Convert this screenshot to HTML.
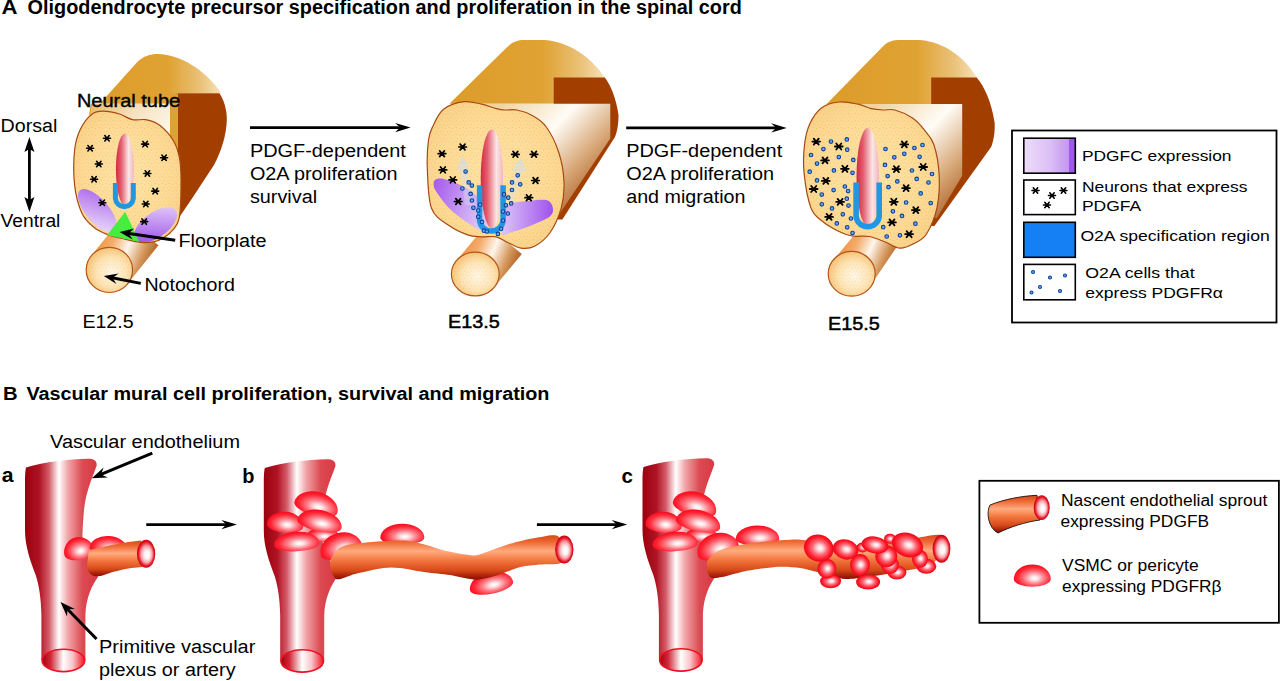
<!DOCTYPE html>
<html><head><meta charset="utf-8"><style>
html,body{margin:0;padding:0;background:#fff;width:1280px;height:681px;overflow:hidden}
svg{display:block}
text{font-family:"Liberation Sans",sans-serif;fill:#000}
</style></head><body>
<svg width="1280" height="681" viewBox="0 0 1280 681">
<defs>
<linearGradient id="gold" x1="0" y1="0" x2="1" y2="0">
 <stop offset="0" stop-color="#dc9c2a"/><stop offset="0.6" stop-color="#e0a232"/><stop offset="0.85" stop-color="#eac27a"/><stop offset="1" stop-color="#f6e2b8"/>
</linearGradient>
<linearGradient id="inner1" x1="0" y1="0" x2="1" y2="0.5">
 <stop offset="0" stop-color="#e6b45c"/><stop offset="0.55" stop-color="#f6e2c0"/><stop offset="1" stop-color="#fdf6ea"/>
</linearGradient>
<linearGradient id="inner2" gradientUnits="userSpaceOnUse" x1="500" y1="104" x2="600" y2="200">
 <stop offset="0" stop-color="#f0d4a0"/><stop offset="0.4" stop-color="#fffcf6"/><stop offset="0.7" stop-color="#d8a878"/><stop offset="1" stop-color="#a05014"/>
</linearGradient>
<linearGradient id="inner3" gradientUnits="userSpaceOnUse" x1="877" y1="104" x2="977" y2="200">
 <stop offset="0" stop-color="#f0d4a0"/><stop offset="0.4" stop-color="#fffcf6"/><stop offset="0.7" stop-color="#d8a878"/><stop offset="1" stop-color="#a05014"/>
</linearGradient>
<radialGradient id="xsec" cx="0.5" cy="0.5" r="0.6">
 <stop offset="0" stop-color="#fde4a6"/><stop offset="0.7" stop-color="#fcda94"/><stop offset="1" stop-color="#f9d088"/>
</radialGradient>
<pattern id="speck" width="7" height="7" patternUnits="userSpaceOnUse">
 <circle cx="1.2" cy="1.3" r="0.6" fill="#ec9a40" opacity="0.45"/><circle cx="4.7" cy="2.6" r="0.55" fill="#ec9a40" opacity="0.4"/><circle cx="2.7" cy="5.2" r="0.55" fill="#ec9a40" opacity="0.4"/><circle cx="6.1" cy="6.0" r="0.5" fill="#ec9a40" opacity="0.35"/>
</pattern>
<radialGradient id="noto" cx="0.55" cy="0.55" r="0.6">
 <stop offset="0" stop-color="#fff6e6"/><stop offset="0.55" stop-color="#fde4b4"/><stop offset="1" stop-color="#f4bc6c"/>
</radialGradient>
<linearGradient id="notobody" x1="0" y1="0.3" x2="1" y2="0.7">
 <stop offset="0" stop-color="#ec8a34"/><stop offset="0.3" stop-color="#f4ac6c"/><stop offset="0.52" stop-color="#fff6ec"/><stop offset="0.75" stop-color="#d4965a"/><stop offset="1" stop-color="#a04808"/>
</linearGradient>
<linearGradient id="purpleL2" x1="0" y1="0" x2="1" y2="0.3">
 <stop offset="0" stop-color="#a458ec"/><stop offset="1" stop-color="#dcc4f6"/>
</linearGradient>
<linearGradient id="purpleL" x1="0" y1="0" x2="1" y2="0.6">
 <stop offset="0" stop-color="#a860ec"/><stop offset="1" stop-color="#e6d2f8"/>
</linearGradient>
<linearGradient id="purpleR" x1="0" y1="0.6" x2="1" y2="0">
 <stop offset="0" stop-color="#a058ea"/><stop offset="1" stop-color="#ead8fa"/>
</linearGradient>
<linearGradient id="purpleR2" x1="0" y1="0" x2="1" y2="0">
 <stop offset="0" stop-color="#dcc6f8"/><stop offset="1" stop-color="#a052ec"/>
</linearGradient>
<linearGradient id="legpurple" x1="0" y1="0" x2="1" y2="0">
 <stop offset="0" stop-color="#ecdcf8"/><stop offset="0.5" stop-color="#dcc0f6"/><stop offset="0.87" stop-color="#c496f2"/><stop offset="0.88" stop-color="#9e58ea"/><stop offset="1" stop-color="#9e58ea"/>
</linearGradient>
<linearGradient id="canal" x1="0" y1="0" x2="1" y2="0">
 <stop offset="0" stop-color="#d42840"/><stop offset="0.3" stop-color="#e26070"/><stop offset="0.7" stop-color="#fbe6e6"/><stop offset="1" stop-color="#f4b4bc"/>
</linearGradient>
<linearGradient id="vesA" gradientUnits="userSpaceOnUse" x1="25" y1="0" x2="97" y2="0">
 <stop offset="0" stop-color="#9a000e"/><stop offset="0.2" stop-color="#b01424"/><stop offset="0.33" stop-color="#d45a68"/><stop offset="0.47" stop-color="#ffffff"/><stop offset="0.6" stop-color="#f0a4a8"/><stop offset="0.8" stop-color="#dc4a52"/><stop offset="1" stop-color="#d83a44"/>
</linearGradient>
<linearGradient id="vesB" gradientUnits="userSpaceOnUse" x1="263" y1="0" x2="335" y2="0">
 <stop offset="0" stop-color="#9a000e"/><stop offset="0.2" stop-color="#b01424"/><stop offset="0.33" stop-color="#d45a68"/><stop offset="0.47" stop-color="#ffffff"/><stop offset="0.6" stop-color="#f0a4a8"/><stop offset="0.8" stop-color="#dc4a52"/><stop offset="1" stop-color="#d83a44"/>
</linearGradient>
<linearGradient id="vesC" gradientUnits="userSpaceOnUse" x1="642" y1="0" x2="714" y2="0">
 <stop offset="0" stop-color="#9a000e"/><stop offset="0.2" stop-color="#b01424"/><stop offset="0.33" stop-color="#d45a68"/><stop offset="0.47" stop-color="#ffffff"/><stop offset="0.6" stop-color="#f0a4a8"/><stop offset="0.8" stop-color="#dc4a52"/><stop offset="1" stop-color="#d83a44"/>
</linearGradient>
<linearGradient id="open" x1="0" y1="0" x2="1" y2="0">
 <stop offset="0" stop-color="#a8000e"/><stop offset="0.2" stop-color="#d02838"/><stop offset="0.5" stop-color="#ffffff"/><stop offset="0.72" stop-color="#f8c4c8"/><stop offset="1" stop-color="#f01424"/>
</linearGradient>
<radialGradient id="open2" cx="0.5" cy="0.5" r="0.5" fx="0.58" fy="0.55">
 <stop offset="0" stop-color="#ffffff"/><stop offset="0.3" stop-color="#fff0f0"/><stop offset="0.6" stop-color="#f8a0a8"/><stop offset="0.85" stop-color="#e81828"/><stop offset="1" stop-color="#c00010"/>
</radialGradient>
<linearGradient id="sprout" x1="0" y1="0" x2="0" y2="1">
 <stop offset="0" stop-color="#d04a18"/><stop offset="0.15" stop-color="#ee6630"/><stop offset="0.36" stop-color="#ffac80"/><stop offset="0.56" stop-color="#f47840"/><stop offset="0.8" stop-color="#d64818"/><stop offset="1" stop-color="#8a0a00"/>
</linearGradient>
<radialGradient id="cell" cx="0.55" cy="0.58" r="0.6" fx="0.56" fy="0.62">
 <stop offset="0" stop-color="#ffffff"/><stop offset="0.15" stop-color="#ffe6e8"/><stop offset="0.45" stop-color="#ff7c86"/><stop offset="0.75" stop-color="#ff2636"/><stop offset="1" stop-color="#f40616"/>
</radialGradient>
<radialGradient id="cellE" cx="0.5" cy="0.5" r="0.5" fx="0.55" fy="0.48">
 <stop offset="0" stop-color="#ffffff"/><stop offset="0.18" stop-color="#ffe0e4"/><stop offset="0.5" stop-color="#ff6a76"/><stop offset="0.8" stop-color="#ff1c2c"/><stop offset="1" stop-color="#e80818"/>
</radialGradient>
<linearGradient id="arrowg" x1="0" y1="1" x2="0" y2="0">
 <stop offset="0" stop-color="#dce4ea" stop-opacity="0.3"/><stop offset="1" stop-color="#cfdbe6" stop-opacity="0.75"/>
</linearGradient>
</defs>

<path d="M88.7,116 L136.4,63 C143,56 150,54 158,54 C182,55 204,70 219,90 L221,93.2 L178,93.2 L178,103.7 L91,103.7 Z" fill="url(#gold)"/>
<path d="M177.5,93.2 L219.5,93.2 C224,100 227,110 226.8,120 C226.5,135 221,152 214,165 L191,200 L176,222 L176,93.2 Z" fill="#a23f00"/>
<rect x="170" y="93.2" width="8" height="70" fill="#dfa03a"/>
<path d="M92,103.7 L170,103.7 L170,150 L84,150 Z" fill="url(#inner1)"/>
<path d="M91.5,255.5L122.8,216.5L158.5,245.3L127.3,284.3Z" fill="url(#notobody)"/>
<ellipse cx="109.4" cy="269.9" rx="23.2" ry="22.6" fill="url(#noto)" stroke="#b45414" stroke-width="1.2"/>
<ellipse cx="109.4" cy="269.9" rx="23.2" ry="22.6" fill="url(#speck)" opacity="0.6"/>
<path d="M80.5,129.0C83.4,123.0 88.4,117.0 92.2,114.0C96.0,111.0 98.9,111.2 103.4,111.2C107.9,111.2 114.6,112.6 119.4,114.0C124.2,115.4 128.1,118.8 132.5,119.7C136.9,120.7 141.1,118.8 145.6,119.7C150.1,120.6 155.0,121.7 159.7,125.3C164.4,128.9 170.3,135.3 173.7,141.2C177.1,147.1 178.7,152.7 179.9,160.5C181.1,168.3 181.1,178.5 181.0,188.0C180.9,197.5 180.6,210.7 179.3,217.6C178.0,224.5 176.0,226.1 173.4,229.4C170.8,232.7 167.1,235.6 164.0,237.6C160.9,239.6 158.5,240.9 154.6,241.7C150.7,242.5 145.9,242.8 140.5,242.3C135.1,241.8 127.5,239.8 122.0,238.5C116.5,237.2 112.3,236.5 107.6,234.6C102.8,232.7 97.8,230.6 93.5,227.0C89.2,223.4 84.9,219.8 81.8,212.9C78.7,206.1 75.9,196.4 74.7,185.9C73.5,175.4 73.6,159.5 74.6,150.0C75.6,140.5 77.6,135.0 80.5,129.0Z" fill="url(#xsec)"/>
<path d="M80.5,129.0C83.4,123.0 88.4,117.0 92.2,114.0C96.0,111.0 98.9,111.2 103.4,111.2C107.9,111.2 114.6,112.6 119.4,114.0C124.2,115.4 128.1,118.8 132.5,119.7C136.9,120.7 141.1,118.8 145.6,119.7C150.1,120.6 155.0,121.7 159.7,125.3C164.4,128.9 170.3,135.3 173.7,141.2C177.1,147.1 178.7,152.7 179.9,160.5C181.1,168.3 181.1,178.5 181.0,188.0C180.9,197.5 180.6,210.7 179.3,217.6C178.0,224.5 176.0,226.1 173.4,229.4C170.8,232.7 167.1,235.6 164.0,237.6C160.9,239.6 158.5,240.9 154.6,241.7C150.7,242.5 145.9,242.8 140.5,242.3C135.1,241.8 127.5,239.8 122.0,238.5C116.5,237.2 112.3,236.5 107.6,234.6C102.8,232.7 97.8,230.6 93.5,227.0C89.2,223.4 84.9,219.8 81.8,212.9C78.7,206.1 75.9,196.4 74.7,185.9C73.5,175.4 73.6,159.5 74.6,150.0C75.6,140.5 77.6,135.0 80.5,129.0Z" fill="url(#speck)"/>
<clipPath id="c1"><path d="M80.5,129.0C83.4,123.0 88.4,117.0 92.2,114.0C96.0,111.0 98.9,111.2 103.4,111.2C107.9,111.2 114.6,112.6 119.4,114.0C124.2,115.4 128.1,118.8 132.5,119.7C136.9,120.7 141.1,118.8 145.6,119.7C150.1,120.6 155.0,121.7 159.7,125.3C164.4,128.9 170.3,135.3 173.7,141.2C177.1,147.1 178.7,152.7 179.9,160.5C181.1,168.3 181.1,178.5 181.0,188.0C180.9,197.5 180.6,210.7 179.3,217.6C178.0,224.5 176.0,226.1 173.4,229.4C170.8,232.7 167.1,235.6 164.0,237.6C160.9,239.6 158.5,240.9 154.6,241.7C150.7,242.5 145.9,242.8 140.5,242.3C135.1,241.8 127.5,239.8 122.0,238.5C116.5,237.2 112.3,236.5 107.6,234.6C102.8,232.7 97.8,230.6 93.5,227.0C89.2,223.4 84.9,219.8 81.8,212.9C78.7,206.1 75.9,196.4 74.7,185.9C73.5,175.4 73.6,159.5 74.6,150.0C75.6,140.5 77.6,135.0 80.5,129.0Z"/></clipPath>
<g clip-path="url(#c1)">
<ellipse cx="97.5" cy="211" rx="27" ry="11.5" transform="rotate(50 97.5 211)" fill="url(#purpleL)"/>
<ellipse cx="155.5" cy="225" rx="25" ry="12.5" transform="rotate(-36 155.5 225)" fill="url(#purpleR)"/>
</g>
<path d="M80.5,129.0C83.4,123.0 88.4,117.0 92.2,114.0C96.0,111.0 98.9,111.2 103.4,111.2C107.9,111.2 114.6,112.6 119.4,114.0C124.2,115.4 128.1,118.8 132.5,119.7C136.9,120.7 141.1,118.8 145.6,119.7C150.1,120.6 155.0,121.7 159.7,125.3C164.4,128.9 170.3,135.3 173.7,141.2C177.1,147.1 178.7,152.7 179.9,160.5C181.1,168.3 181.1,178.5 181.0,188.0C180.9,197.5 180.6,210.7 179.3,217.6C178.0,224.5 176.0,226.1 173.4,229.4C170.8,232.7 167.1,235.6 164.0,237.6C160.9,239.6 158.5,240.9 154.6,241.7C150.7,242.5 145.9,242.8 140.5,242.3C135.1,241.8 127.5,239.8 122.0,238.5C116.5,237.2 112.3,236.5 107.6,234.6C102.8,232.7 97.8,230.6 93.5,227.0C89.2,223.4 84.9,219.8 81.8,212.9C78.7,206.1 75.9,196.4 74.7,185.9C73.5,175.4 73.6,159.5 74.6,150.0C75.6,140.5 77.6,135.0 80.5,129.0Z" fill="none" stroke="#a84a10" stroke-width="1.2"/>
<path d="M125.2,211.7 L107,235.2 L139.3,241.7 Z" fill="#46ec3e"/>
<ellipse cx="124.9" cy="169.4" rx="9" ry="36" fill="url(#canal)"/>
<path d="M115.4,182.9L115.4,198.6A9.0,9.0 0 0 0 133.3,198.6L133.3,182.9" fill="none" stroke="#2196e2" stroke-width="5"/>
<path d="M103.5,138.2L110.5,138.2M104.8,135.5L109.2,140.9M109.2,135.5L104.8,140.9" stroke="#000" stroke-width="1.6" stroke-linecap="round"/>
<path d="M86.6,148.3L93.6,148.3M87.9,145.6L92.3,151.0M92.3,145.6L87.9,151.0" stroke="#000" stroke-width="1.6" stroke-linecap="round"/>
<path d="M95.3,164.0L102.3,164.0M96.6,161.3L101.0,166.7M101.0,161.3L96.6,166.7" stroke="#000" stroke-width="1.6" stroke-linecap="round"/>
<path d="M90.6,179.3L97.6,179.3M91.9,176.6L96.3,182.0M96.3,176.6L91.9,182.0" stroke="#000" stroke-width="1.6" stroke-linecap="round"/>
<path d="M98.8,202.8L105.8,202.8M100.1,200.1L104.5,205.5M104.5,200.1L100.1,205.5" stroke="#000" stroke-width="1.6" stroke-linecap="round"/>
<path d="M141.6,144.1L148.6,144.1M142.9,141.4L147.3,146.8M147.3,141.4L142.9,146.8" stroke="#000" stroke-width="1.6" stroke-linecap="round"/>
<path d="M160.6,157.7L167.6,157.7M161.9,155.0L166.3,160.4M166.3,155.0L161.9,160.4" stroke="#000" stroke-width="1.6" stroke-linecap="round"/>
<path d="M143.9,173.5L150.9,173.5M145.2,170.8L149.6,176.2M149.6,170.8L145.2,176.2" stroke="#000" stroke-width="1.6" stroke-linecap="round"/>
<path d="M151.7,191.1L158.7,191.1M153.0,188.4L157.4,193.8M157.4,188.4L153.0,193.8" stroke="#000" stroke-width="1.6" stroke-linecap="round"/>
<path d="M142.3,204.0L149.3,204.0M143.6,201.3L148.0,206.7M148.0,201.3L143.6,206.7" stroke="#000" stroke-width="1.6" stroke-linecap="round"/>
<path d="M140.7,221.6L147.7,221.6M142.0,218.9L146.4,224.3M146.4,218.9L142.0,224.3" stroke="#000" stroke-width="1.6" stroke-linecap="round"/>
<path d="M449.4,103.7 L506.7,47.6 C512,42 518,40 524,40 L545,40 C570,42 592,58 604.8,77.5 L604.8,103.7 Z" fill="url(#gold)"/>
<path d="M553.7,77.5 L604.8,77.5 C611,86 616,98 618.5,115 C618.5,125 617,132 614.8,137.3 L562.4,219.6 L553.7,219.6 Z" fill="#a23f00"/>
<path d="M470,103.7 L610.3,103.7 L610.3,138.6 L557.4,217 L530,217 L530,150 L470,150 Z" fill="url(#inner2)"/>
<path d="M457.6,259.3L486.4,224.6L521.8,254L493,288.7Z" fill="url(#notobody)"/>
<ellipse cx="475.3" cy="274" rx="23.9" ry="21.9" fill="url(#noto)" stroke="#b45414" stroke-width="1.2"/>
<ellipse cx="475.3" cy="274" rx="23.9" ry="21.9" fill="url(#speck)" opacity="0.6"/>
<path d="M432.5,127.0C435.0,121.9 438.2,113.5 443.5,109.3C448.8,105.1 457.7,102.5 464.1,101.7C470.5,100.9 476.3,103.1 481.7,104.2C487.1,105.3 492.5,107.6 496.4,108.6C500.3,109.6 501.8,109.8 505.2,110.0C508.6,110.2 512.6,109.1 517.0,110.0C521.4,110.9 526.8,112.4 531.7,115.2C536.6,118.0 541.8,120.8 546.3,127.0C550.8,133.2 555.8,143.2 558.7,152.3C561.7,161.4 563.6,172.2 564.0,181.5C564.4,190.8 563.6,199.6 561.2,208.2C558.8,216.8 554.2,226.7 549.8,233.0C545.3,239.3 539.3,243.8 534.5,246.3C529.7,248.8 525.6,248.8 521.1,248.2C516.6,247.6 511.9,244.4 507.8,242.5C503.7,240.6 500.8,237.8 496.3,236.8C491.9,235.9 485.9,237.1 481.1,236.8C476.3,236.5 473.1,236.8 467.7,234.9C462.3,233.0 454.6,229.8 448.6,225.3C442.6,220.9 435.1,217.8 431.5,208.2C427.9,198.6 427.8,178.9 427.3,167.5C426.8,156.1 427.6,146.8 428.5,140.0C429.4,133.2 430.0,132.1 432.5,127.0Z" fill="url(#xsec)"/>
<path d="M432.5,127.0C435.0,121.9 438.2,113.5 443.5,109.3C448.8,105.1 457.7,102.5 464.1,101.7C470.5,100.9 476.3,103.1 481.7,104.2C487.1,105.3 492.5,107.6 496.4,108.6C500.3,109.6 501.8,109.8 505.2,110.0C508.6,110.2 512.6,109.1 517.0,110.0C521.4,110.9 526.8,112.4 531.7,115.2C536.6,118.0 541.8,120.8 546.3,127.0C550.8,133.2 555.8,143.2 558.7,152.3C561.7,161.4 563.6,172.2 564.0,181.5C564.4,190.8 563.6,199.6 561.2,208.2C558.8,216.8 554.2,226.7 549.8,233.0C545.3,239.3 539.3,243.8 534.5,246.3C529.7,248.8 525.6,248.8 521.1,248.2C516.6,247.6 511.9,244.4 507.8,242.5C503.7,240.6 500.8,237.8 496.3,236.8C491.9,235.9 485.9,237.1 481.1,236.8C476.3,236.5 473.1,236.8 467.7,234.9C462.3,233.0 454.6,229.8 448.6,225.3C442.6,220.9 435.1,217.8 431.5,208.2C427.9,198.6 427.8,178.9 427.3,167.5C426.8,156.1 427.6,146.8 428.5,140.0C429.4,133.2 430.0,132.1 432.5,127.0Z" fill="url(#speck)"/>
<clipPath id="c2"><path d="M432.5,127.0C435.0,121.9 438.2,113.5 443.5,109.3C448.8,105.1 457.7,102.5 464.1,101.7C470.5,100.9 476.3,103.1 481.7,104.2C487.1,105.3 492.5,107.6 496.4,108.6C500.3,109.6 501.8,109.8 505.2,110.0C508.6,110.2 512.6,109.1 517.0,110.0C521.4,110.9 526.8,112.4 531.7,115.2C536.6,118.0 541.8,120.8 546.3,127.0C550.8,133.2 555.8,143.2 558.7,152.3C561.7,161.4 563.6,172.2 564.0,181.5C564.4,190.8 563.6,199.6 561.2,208.2C558.8,216.8 554.2,226.7 549.8,233.0C545.3,239.3 539.3,243.8 534.5,246.3C529.7,248.8 525.6,248.8 521.1,248.2C516.6,247.6 511.9,244.4 507.8,242.5C503.7,240.6 500.8,237.8 496.3,236.8C491.9,235.9 485.9,237.1 481.1,236.8C476.3,236.5 473.1,236.8 467.7,234.9C462.3,233.0 454.6,229.8 448.6,225.3C442.6,220.9 435.1,217.8 431.5,208.2C427.9,198.6 427.8,178.9 427.3,167.5C426.8,156.1 427.6,146.8 428.5,140.0C429.4,133.2 430.0,132.1 432.5,127.0Z"/></clipPath>
<g clip-path="url(#c2)">
<path d="M434.5,180.4C435.8,178.7 440.0,178.1 444.1,178.9C448.2,179.7 456.9,183.0 461.7,185.5C466.5,188.0 472.6,191.6 476.4,195.8C480.1,200.0 485.4,208.1 486.7,213.5C488.0,218.9 487.8,230.3 485.2,231.8C482.6,233.3 474.4,227.1 469.1,223.7C463.8,220.3 455.1,214.1 450.0,209.0C444.9,203.9 437.6,194.3 435.3,190.0C433.0,185.7 433.2,182.1 434.5,180.4Z" fill="url(#purpleL2)"/>
<path d="M501.4,234.0C501.0,230.0 503.3,211.0 507.3,206.1C511.3,201.2 521.8,201.9 527.8,201.0C533.8,200.1 543.2,199.2 547.0,200.2C550.8,201.2 552.4,205.2 552.8,207.6C553.2,210.0 553.6,213.5 549.9,216.4C546.1,219.3 533.8,224.3 527.8,226.7C521.8,229.1 514.2,231.5 510.2,232.6C506.2,233.7 501.8,238.0 501.4,234.0Z" fill="url(#purpleR2)"/>
</g>
<path d="M432.5,127.0C435.0,121.9 438.2,113.5 443.5,109.3C448.8,105.1 457.7,102.5 464.1,101.7C470.5,100.9 476.3,103.1 481.7,104.2C487.1,105.3 492.5,107.6 496.4,108.6C500.3,109.6 501.8,109.8 505.2,110.0C508.6,110.2 512.6,109.1 517.0,110.0C521.4,110.9 526.8,112.4 531.7,115.2C536.6,118.0 541.8,120.8 546.3,127.0C550.8,133.2 555.8,143.2 558.7,152.3C561.7,161.4 563.6,172.2 564.0,181.5C564.4,190.8 563.6,199.6 561.2,208.2C558.8,216.8 554.2,226.7 549.8,233.0C545.3,239.3 539.3,243.8 534.5,246.3C529.7,248.8 525.6,248.8 521.1,248.2C516.6,247.6 511.9,244.4 507.8,242.5C503.7,240.6 500.8,237.8 496.3,236.8C491.9,235.9 485.9,237.1 481.1,236.8C476.3,236.5 473.1,236.8 467.7,234.9C462.3,233.0 454.6,229.8 448.6,225.3C442.6,220.9 435.1,217.8 431.5,208.2C427.9,198.6 427.8,178.9 427.3,167.5C426.8,156.1 427.6,146.8 428.5,140.0C429.4,133.2 430.0,132.1 432.5,127.0Z" fill="none" stroke="#a84a10" stroke-width="1.2"/>
<path d="M474,205 L466,169 L469.8,168.6 L462.5,155.4 L456.6,170.1 L460.5,170 L465,205 Z" fill="url(#arrowg)"/>
<path d="M505,205 L516.5,171 L512.4,170.9 L520.5,157.6 L526.4,171.6 L522,171.5 L513,205 Z" fill="url(#arrowg)"/>
<ellipse cx="491.9" cy="178.8" rx="11.2" ry="49.4" fill="url(#canal)"/>
<path d="M479.6,185.3L479.6,220.4A11.8,11.8 0 0 0 503.1,220.4L503.1,185.3" fill="none" stroke="#2196e2" stroke-width="5.5"/>
<path d="M438.2,153.7L445.8,153.7M439.6,150.8L444.4,156.6M444.4,150.8L439.6,156.6" stroke="#000" stroke-width="1.7" stroke-linecap="round"/>
<path d="M458.8,147.0L466.4,147.0M460.2,144.1L465.0,149.9M465.0,144.1L460.2,149.9" stroke="#000" stroke-width="1.7" stroke-linecap="round"/>
<path d="M439.1,169.9L446.7,169.9M440.5,167.0L445.3,172.8M445.3,167.0L440.5,172.8" stroke="#000" stroke-width="1.7" stroke-linecap="round"/>
<path d="M449.0,179.9L456.6,179.9M450.4,177.0L455.2,182.8M455.2,177.0L450.4,182.8" stroke="#000" stroke-width="1.7" stroke-linecap="round"/>
<path d="M454.4,201.5L462.0,201.5M455.8,198.6L460.6,204.4M460.6,198.6L455.8,204.4" stroke="#000" stroke-width="1.7" stroke-linecap="round"/>
<path d="M511.6,154.3L519.2,154.3M513.0,151.4L517.8,157.2M517.8,151.4L513.0,157.2" stroke="#000" stroke-width="1.7" stroke-linecap="round"/>
<path d="M530.2,154.3L537.8,154.3M531.6,151.4L536.4,157.2M536.4,151.4L531.6,157.2" stroke="#000" stroke-width="1.7" stroke-linecap="round"/>
<path d="M531.7,180.5L539.3,180.5M533.1,177.6L537.9,183.4M537.9,177.6L533.1,183.4" stroke="#000" stroke-width="1.7" stroke-linecap="round"/>
<path d="M525.0,197.7L532.6,197.7M526.4,194.8L531.2,200.6M531.2,194.8L526.4,200.6" stroke="#000" stroke-width="1.7" stroke-linecap="round"/>
<circle cx="465.6" cy="171.6" r="1.8" fill="#5aacf4" stroke="#143e96" stroke-width="1.1"/>
<circle cx="468.7" cy="182.4" r="1.8" fill="#5aacf4" stroke="#143e96" stroke-width="1.1"/>
<circle cx="471.9" cy="185.6" r="1.8" fill="#5aacf4" stroke="#143e96" stroke-width="1.1"/>
<circle cx="462.4" cy="188.5" r="1.8" fill="#5aacf4" stroke="#143e96" stroke-width="1.1"/>
<circle cx="470.6" cy="193.9" r="1.8" fill="#5aacf4" stroke="#143e96" stroke-width="1.1"/>
<circle cx="471.9" cy="200.5" r="1.8" fill="#5aacf4" stroke="#143e96" stroke-width="1.1"/>
<circle cx="473.4" cy="207.8" r="1.8" fill="#5aacf4" stroke="#143e96" stroke-width="1.1"/>
<circle cx="480.1" cy="204.7" r="1.8" fill="#5aacf4" stroke="#143e96" stroke-width="1.1"/>
<circle cx="478.2" cy="210.5" r="1.8" fill="#5aacf4" stroke="#143e96" stroke-width="1.1"/>
<circle cx="478.2" cy="216.8" r="1.8" fill="#5aacf4" stroke="#143e96" stroke-width="1.1"/>
<circle cx="482.0" cy="221.9" r="1.8" fill="#5aacf4" stroke="#143e96" stroke-width="1.1"/>
<circle cx="483.9" cy="230.7" r="1.8" fill="#5aacf4" stroke="#143e96" stroke-width="1.1"/>
<circle cx="486.8" cy="231.5" r="1.8" fill="#5aacf4" stroke="#143e96" stroke-width="1.1"/>
<circle cx="497.9" cy="233.9" r="1.8" fill="#5aacf4" stroke="#143e96" stroke-width="1.1"/>
<circle cx="501.1" cy="228.8" r="1.8" fill="#5aacf4" stroke="#143e96" stroke-width="1.1"/>
<circle cx="503.0" cy="220.6" r="1.8" fill="#5aacf4" stroke="#143e96" stroke-width="1.1"/>
<circle cx="503.0" cy="211.6" r="1.8" fill="#5aacf4" stroke="#143e96" stroke-width="1.1"/>
<circle cx="507.8" cy="213.5" r="1.8" fill="#5aacf4" stroke="#143e96" stroke-width="1.1"/>
<circle cx="505.9" cy="205.3" r="1.8" fill="#5aacf4" stroke="#143e96" stroke-width="1.1"/>
<circle cx="511.2" cy="203.4" r="1.8" fill="#5aacf4" stroke="#143e96" stroke-width="1.1"/>
<circle cx="508.2" cy="197.7" r="1.8" fill="#5aacf4" stroke="#143e96" stroke-width="1.1"/>
<circle cx="504.0" cy="194.4" r="1.8" fill="#5aacf4" stroke="#143e96" stroke-width="1.1"/>
<circle cx="512.0" cy="190.0" r="1.8" fill="#5aacf4" stroke="#143e96" stroke-width="1.1"/>
<circle cx="512.0" cy="182.4" r="1.8" fill="#5aacf4" stroke="#143e96" stroke-width="1.1"/>
<circle cx="520.2" cy="184.3" r="1.8" fill="#5aacf4" stroke="#143e96" stroke-width="1.1"/>
<circle cx="517.7" cy="175.3" r="1.8" fill="#5aacf4" stroke="#143e96" stroke-width="1.1"/>
<path d="M826.6,103.9 L883.1,46.2 C888,41 894,40 900,40 L920,40 C945,42 965,58 976.7,77.4 L976.7,103.9 Z" fill="url(#gold)"/>
<path d="M931.2,77.4 L976.7,77.4 C984,86 991,100 994.7,122.9 C995,133 993.5,140 991.3,146.7 L934.4,226 L931.2,226 Z" fill="#a23f00"/>
<path d="M850,103.9 L962.2,103.9 L962.2,175.8 L937,218 L900,218 L900,150 L850,150 Z" fill="url(#inner3)"/>
<path d="M834.2,259.2L860,228L897,246.5L869.2,287.4Z" fill="url(#notobody)"/>
<ellipse cx="851.7" cy="273.8" rx="23.5" ry="22.4" fill="url(#noto)" stroke="#b45414" stroke-width="1.2"/>
<ellipse cx="851.7" cy="273.8" rx="23.5" ry="22.4" fill="url(#speck)" opacity="0.6"/>
<path d="M809.7,124.0C812.5,117.8 816.5,111.6 821.4,107.9C826.3,104.2 833.0,102.6 839.1,102.0C845.2,101.4 852.8,103.1 858.2,104.2C863.6,105.3 867.2,107.6 871.4,108.6C875.5,109.6 879.2,109.8 883.1,110.0C887.0,110.2 890.0,108.7 894.9,110.0C899.8,111.3 907.6,114.8 912.5,118.1C917.4,121.4 920.7,125.4 924.3,129.9C927.9,134.4 931.5,137.3 934.0,145.0C936.5,152.7 938.7,165.4 939.2,175.8C939.7,186.2 939.1,197.9 937.0,207.6C934.9,217.3 930.3,228.0 926.5,234.0C922.7,240.0 918.4,241.1 914.0,243.5C909.6,245.9 904.7,248.4 900.0,248.2C895.3,248.0 890.9,244.2 885.8,242.3C880.7,240.4 875.0,237.6 869.4,236.5C863.8,235.4 857.2,236.9 852.0,236.0C846.8,235.1 843.0,233.5 838.0,231.0C833.0,228.5 826.5,224.8 822.0,221.0C817.5,217.2 814.0,215.9 811.0,208.0C808.0,200.1 805.2,183.9 804.1,173.4C803.0,162.9 803.6,153.2 804.5,145.0C805.4,136.8 806.9,130.2 809.7,124.0Z" fill="url(#xsec)"/>
<path d="M809.7,124.0C812.5,117.8 816.5,111.6 821.4,107.9C826.3,104.2 833.0,102.6 839.1,102.0C845.2,101.4 852.8,103.1 858.2,104.2C863.6,105.3 867.2,107.6 871.4,108.6C875.5,109.6 879.2,109.8 883.1,110.0C887.0,110.2 890.0,108.7 894.9,110.0C899.8,111.3 907.6,114.8 912.5,118.1C917.4,121.4 920.7,125.4 924.3,129.9C927.9,134.4 931.5,137.3 934.0,145.0C936.5,152.7 938.7,165.4 939.2,175.8C939.7,186.2 939.1,197.9 937.0,207.6C934.9,217.3 930.3,228.0 926.5,234.0C922.7,240.0 918.4,241.1 914.0,243.5C909.6,245.9 904.7,248.4 900.0,248.2C895.3,248.0 890.9,244.2 885.8,242.3C880.7,240.4 875.0,237.6 869.4,236.5C863.8,235.4 857.2,236.9 852.0,236.0C846.8,235.1 843.0,233.5 838.0,231.0C833.0,228.5 826.5,224.8 822.0,221.0C817.5,217.2 814.0,215.9 811.0,208.0C808.0,200.1 805.2,183.9 804.1,173.4C803.0,162.9 803.6,153.2 804.5,145.0C805.4,136.8 806.9,130.2 809.7,124.0Z" fill="url(#speck)"/>
<path d="M809.7,124.0C812.5,117.8 816.5,111.6 821.4,107.9C826.3,104.2 833.0,102.6 839.1,102.0C845.2,101.4 852.8,103.1 858.2,104.2C863.6,105.3 867.2,107.6 871.4,108.6C875.5,109.6 879.2,109.8 883.1,110.0C887.0,110.2 890.0,108.7 894.9,110.0C899.8,111.3 907.6,114.8 912.5,118.1C917.4,121.4 920.7,125.4 924.3,129.9C927.9,134.4 931.5,137.3 934.0,145.0C936.5,152.7 938.7,165.4 939.2,175.8C939.7,186.2 939.1,197.9 937.0,207.6C934.9,217.3 930.3,228.0 926.5,234.0C922.7,240.0 918.4,241.1 914.0,243.5C909.6,245.9 904.7,248.4 900.0,248.2C895.3,248.0 890.9,244.2 885.8,242.3C880.7,240.4 875.0,237.6 869.4,236.5C863.8,235.4 857.2,236.9 852.0,236.0C846.8,235.1 843.0,233.5 838.0,231.0C833.0,228.5 826.5,224.8 822.0,221.0C817.5,217.2 814.0,215.9 811.0,208.0C808.0,200.1 805.2,183.9 804.1,173.4C803.0,162.9 803.6,153.2 804.5,145.0C805.4,136.8 806.9,130.2 809.7,124.0Z" fill="none" stroke="#a84a10" stroke-width="1.2"/>
<ellipse cx="867.8" cy="177.1" rx="11.3" ry="49.2" fill="url(#canal)"/>
<path d="M856.1,182.6L856.1,216.3A11.6,11.6 0 0 0 879.2,216.3L879.2,182.6" fill="none" stroke="#2196e2" stroke-width="5.6"/>
<path d="M812.3,141.6L820.1,141.6M813.7,138.6L818.7,144.6M818.7,138.6L813.7,144.6" stroke="#000" stroke-width="1.8" stroke-linecap="round"/>
<path d="M834.9,146.5L842.7,146.5M836.3,143.5L841.3,149.5M841.3,143.5L836.3,149.5" stroke="#000" stroke-width="1.8" stroke-linecap="round"/>
<path d="M821.1,160.4L828.9,160.4M822.5,157.4L827.5,163.4M827.5,157.4L822.5,163.4" stroke="#000" stroke-width="1.8" stroke-linecap="round"/>
<path d="M841.0,168.8L848.8,168.8M842.4,165.8L847.4,171.8M847.4,165.8L842.4,171.8" stroke="#000" stroke-width="1.8" stroke-linecap="round"/>
<path d="M821.9,180.9L829.7,180.9M823.3,177.9L828.3,183.9M828.3,177.9L823.3,183.9" stroke="#000" stroke-width="1.8" stroke-linecap="round"/>
<path d="M809.8,189.0L817.6,189.0M811.2,186.0L816.2,192.0M816.2,186.0L811.2,192.0" stroke="#000" stroke-width="1.8" stroke-linecap="round"/>
<path d="M836.2,201.9L844.0,201.9M837.6,198.9L842.6,204.9M842.6,198.9L837.6,204.9" stroke="#000" stroke-width="1.8" stroke-linecap="round"/>
<path d="M825.2,216.9L833.0,216.9M826.6,213.9L831.6,219.9M831.6,213.9L826.6,219.9" stroke="#000" stroke-width="1.8" stroke-linecap="round"/>
<path d="M900.4,144.4L908.2,144.4M901.8,141.4L906.8,147.4M906.8,141.4L901.8,147.4" stroke="#000" stroke-width="1.8" stroke-linecap="round"/>
<path d="M892.5,169.1L900.3,169.1M893.9,166.1L898.9,172.1M898.9,166.1L893.9,172.1" stroke="#000" stroke-width="1.8" stroke-linecap="round"/>
<path d="M919.3,167.0L927.1,167.0M920.7,164.0L925.7,170.0M925.7,164.0L920.7,170.0" stroke="#000" stroke-width="1.8" stroke-linecap="round"/>
<path d="M902.2,188.1L910.0,188.1M903.6,185.1L908.6,191.1M908.6,185.1L903.6,191.1" stroke="#000" stroke-width="1.8" stroke-linecap="round"/>
<path d="M889.9,201.8L897.7,201.8M891.3,198.8L896.3,204.8M896.3,198.8L891.3,204.8" stroke="#000" stroke-width="1.8" stroke-linecap="round"/>
<path d="M911.9,210.1L919.7,210.1M913.3,207.1L918.3,213.1M918.3,207.1L913.3,213.1" stroke="#000" stroke-width="1.8" stroke-linecap="round"/>
<path d="M888.1,222.4L895.9,222.4M889.5,219.4L894.5,225.4M894.5,219.4L889.5,225.4" stroke="#000" stroke-width="1.8" stroke-linecap="round"/>
<path d="M905.2,234.2L913.0,234.2M906.6,231.2L911.6,237.2M911.6,231.2L906.6,237.2" stroke="#000" stroke-width="1.8" stroke-linecap="round"/>
<circle cx="846.8" cy="139.4" r="1.8" fill="#5aacf4" stroke="#143e96" stroke-width="1.1"/>
<circle cx="831.0" cy="141.6" r="1.8" fill="#5aacf4" stroke="#143e96" stroke-width="1.1"/>
<circle cx="823.4" cy="149.1" r="1.8" fill="#5aacf4" stroke="#143e96" stroke-width="1.1"/>
<circle cx="847.2" cy="149.7" r="1.8" fill="#5aacf4" stroke="#143e96" stroke-width="1.1"/>
<circle cx="811.0" cy="155.0" r="1.8" fill="#5aacf4" stroke="#143e96" stroke-width="1.1"/>
<circle cx="838.8" cy="157.1" r="1.8" fill="#5aacf4" stroke="#143e96" stroke-width="1.1"/>
<circle cx="853.3" cy="159.9" r="1.8" fill="#5aacf4" stroke="#143e96" stroke-width="1.1"/>
<circle cx="817.0" cy="163.6" r="1.8" fill="#5aacf4" stroke="#143e96" stroke-width="1.1"/>
<circle cx="833.9" cy="170.4" r="1.8" fill="#5aacf4" stroke="#143e96" stroke-width="1.1"/>
<circle cx="852.5" cy="172.8" r="1.8" fill="#5aacf4" stroke="#143e96" stroke-width="1.1"/>
<circle cx="809.7" cy="171.7" r="1.8" fill="#5aacf4" stroke="#143e96" stroke-width="1.1"/>
<circle cx="817.0" cy="180.4" r="1.8" fill="#5aacf4" stroke="#143e96" stroke-width="1.1"/>
<circle cx="844.9" cy="186.5" r="1.8" fill="#5aacf4" stroke="#143e96" stroke-width="1.1"/>
<circle cx="848.1" cy="191.1" r="1.8" fill="#5aacf4" stroke="#143e96" stroke-width="1.1"/>
<circle cx="833.6" cy="190.1" r="1.8" fill="#5aacf4" stroke="#143e96" stroke-width="1.1"/>
<circle cx="821.8" cy="194.6" r="1.8" fill="#5aacf4" stroke="#143e96" stroke-width="1.1"/>
<circle cx="846.8" cy="198.7" r="1.8" fill="#5aacf4" stroke="#143e96" stroke-width="1.1"/>
<circle cx="848.5" cy="205.6" r="1.8" fill="#5aacf4" stroke="#143e96" stroke-width="1.1"/>
<circle cx="821.8" cy="204.3" r="1.8" fill="#5aacf4" stroke="#143e96" stroke-width="1.1"/>
<circle cx="832.0" cy="208.4" r="1.8" fill="#5aacf4" stroke="#143e96" stroke-width="1.1"/>
<circle cx="842.8" cy="214.3" r="1.8" fill="#5aacf4" stroke="#143e96" stroke-width="1.1"/>
<circle cx="850.9" cy="218.5" r="1.8" fill="#5aacf4" stroke="#143e96" stroke-width="1.1"/>
<circle cx="836.8" cy="223.4" r="1.8" fill="#5aacf4" stroke="#143e96" stroke-width="1.1"/>
<circle cx="847.2" cy="227.3" r="1.8" fill="#5aacf4" stroke="#143e96" stroke-width="1.1"/>
<circle cx="852.5" cy="233.1" r="1.8" fill="#5aacf4" stroke="#143e96" stroke-width="1.1"/>
<circle cx="885.5" cy="149.0" r="1.8" fill="#5aacf4" stroke="#143e96" stroke-width="1.1"/>
<circle cx="922.5" cy="145.0" r="1.8" fill="#5aacf4" stroke="#143e96" stroke-width="1.1"/>
<circle cx="914.4" cy="148.0" r="1.8" fill="#5aacf4" stroke="#143e96" stroke-width="1.1"/>
<circle cx="904.3" cy="153.8" r="1.8" fill="#5aacf4" stroke="#143e96" stroke-width="1.1"/>
<circle cx="894.3" cy="157.3" r="1.8" fill="#5aacf4" stroke="#143e96" stroke-width="1.1"/>
<circle cx="919.6" cy="156.8" r="1.8" fill="#5aacf4" stroke="#143e96" stroke-width="1.1"/>
<circle cx="885.0" cy="164.9" r="1.8" fill="#5aacf4" stroke="#143e96" stroke-width="1.1"/>
<circle cx="911.9" cy="170.5" r="1.8" fill="#5aacf4" stroke="#143e96" stroke-width="1.1"/>
<circle cx="932.0" cy="174.0" r="1.8" fill="#5aacf4" stroke="#143e96" stroke-width="1.1"/>
<circle cx="887.6" cy="176.1" r="1.8" fill="#5aacf4" stroke="#143e96" stroke-width="1.1"/>
<circle cx="897.3" cy="181.4" r="1.8" fill="#5aacf4" stroke="#143e96" stroke-width="1.1"/>
<circle cx="916.7" cy="178.9" r="1.8" fill="#5aacf4" stroke="#143e96" stroke-width="1.1"/>
<circle cx="928.5" cy="182.5" r="1.8" fill="#5aacf4" stroke="#143e96" stroke-width="1.1"/>
<circle cx="888.5" cy="187.2" r="1.8" fill="#5aacf4" stroke="#143e96" stroke-width="1.1"/>
<circle cx="920.7" cy="193.4" r="1.8" fill="#5aacf4" stroke="#143e96" stroke-width="1.1"/>
<circle cx="906.1" cy="202.5" r="1.8" fill="#5aacf4" stroke="#143e96" stroke-width="1.1"/>
<circle cx="930.7" cy="203.1" r="1.8" fill="#5aacf4" stroke="#143e96" stroke-width="1.1"/>
<circle cx="892.9" cy="211.3" r="1.8" fill="#5aacf4" stroke="#143e96" stroke-width="1.1"/>
<circle cx="902.0" cy="215.9" r="1.8" fill="#5aacf4" stroke="#143e96" stroke-width="1.1"/>
<circle cx="915.4" cy="223.7" r="1.8" fill="#5aacf4" stroke="#143e96" stroke-width="1.1"/>
<circle cx="883.2" cy="227.2" r="1.8" fill="#5aacf4" stroke="#143e96" stroke-width="1.1"/>
<circle cx="886.7" cy="236.5" r="1.8" fill="#5aacf4" stroke="#143e96" stroke-width="1.1"/>
<circle cx="899.9" cy="235.3" r="1.8" fill="#5aacf4" stroke="#143e96" stroke-width="1.1"/>
<path d="M26.0,467.6 C45.0,462.0 68.0,459.0 88.0,458.8 C94.0,458.8 97.5,461.0 96.5,466.0 C94.0,474.0 86.0,490.0 84.0,510.0 C83.0,522.0 82.5,530.0 82.5,538.0 L88.0,552.0 C92.0,562.0 95.0,570.0 98.0,577.0 C92.0,585.0 86.0,598.0 85.4,615.0 L85.4,660.0 L41.4,660.0 L41.4,615.0 C41.0,597.0 39.0,586.0 36.0,576.0 C30.0,560.0 25.0,546.0 25.0,530.0 L25.0,480.0 C25.0,474.0 25.5,470.0 26.0,467.6 Z" fill="url(#vesA)"/>
<ellipse cx="63.4" cy="660.4" rx="21.3" ry="11.2" fill="url(#open)" stroke="#ec1222" stroke-width="1.6"/>
<path d="M63.5,552.1A15.0,15.0 0 0 1 93.5,552.1A15.0,8.0 0 0 1 63.5,552.1Z" fill="url(#cell)" transform="rotate(-10 78.5 548.6)"/>
<path d="M89.8,549.0A19.0,13.0 0 0 1 127.8,549.0A19.0,7.0 0 0 1 89.8,549.0Z" fill="url(#cell)" transform="rotate(5 108.8 546.0)"/>
<path d="M88.8,550.2 C105,546 125,542 141.2,540.4 L142.2,567.1 C128,568 115,571 104,575 C96,578 88,576 87,566 Z" fill="url(#sprout)"/>
<ellipse cx="146.1" cy="553.8" rx="9.2" ry="14" fill="url(#open2)"/>
<path d="M264.8,468.1 C283.8,462.5 306.8,459.5 326.8,459.3 C332.8,459.3 336.3,461.5 335.3,466.5 C332.8,474.5 324.8,490.5 322.8,510.5 C321.8,522.5 321.3,530.5 321.3,538.5 L326.8,552.5 C330.8,562.5 333.8,570.5 336.8,577.5 C330.8,585.5 324.8,598.5 324.2,615.5 L324.2,660.5 L280.2,660.5 L280.2,615.5 C279.8,597.5 277.8,586.5 274.8,576.5 C268.8,560.5 263.8,546.5 263.8,530.5 L263.8,480.5 C263.8,474.5 264.3,470.5 264.8,468.1 Z" fill="url(#vesB)"/>
<ellipse cx="302.2" cy="660.9" rx="21.3" ry="11.2" fill="url(#open)" stroke="#ec1222" stroke-width="1.6"/>
<path d="M294.6,507.5A22.2,15.6 0 0 1 339.0,507.5A22.2,8.4 0 0 1 294.6,507.5Z" fill="url(#cell)" transform="rotate(15 316.8 503.9)"/>
<path d="M267.2,525.4A18.2,13.7 0 0 1 303.6,525.4A18.2,7.3 0 0 1 267.2,525.4Z" fill="url(#cell)" transform="rotate(5 285.4 522.3)"/>
<path d="M306.3,537.0A16.5,9.5 0 0 1 339.3,537.0A16.5,5.1 0 0 1 306.3,537.0Z" fill="url(#cell)"/>
<path d="M297.6,524.0A22.5,13.9 0 0 1 342.6,524.0A22.5,7.5 0 0 1 297.6,524.0Z" fill="url(#cell)" transform="rotate(12 320.1 520.8)"/>
<path d="M273.9,544.4A22.7,12.9 0 0 1 319.3,544.4A22.7,6.9 0 0 1 273.9,544.4Z" fill="url(#cell)" transform="rotate(-3 296.6 541.4)"/>
<path d="M319.2,550.0A21.3,17.3 0 0 1 361.8,550.0A21.3,9.3 0 0 1 319.2,550.0Z" fill="url(#cell)" transform="rotate(-15 340.5 546.0)"/>
<path d="M380.3,537.4A22.0,13.7 0 0 1 424.3,537.4A22.0,7.3 0 0 1 380.3,537.4Z" fill="url(#cell)"/>
<path d="M468.9,586.1A22.0,14.3 0 0 1 512.9,586.1A22.0,7.7 0 0 1 468.9,586.1Z" fill="url(#cell)" transform="rotate(-12 490.9 582.8)"/>
<path d="M341.1,546.9C346.7,544.2 363.6,542.8 372.0,542.0C380.4,541.2 397.2,540.2 404.4,540.6C411.6,541.0 420.4,543.6 426.0,545.0C431.6,546.4 440.2,549.7 446.6,551.1C453.0,552.5 467.9,555.5 474.0,555.4C480.1,555.3 487.2,551.5 492.0,550.0C496.8,548.5 504.2,545.4 509.9,543.8C515.6,542.2 528.5,539.0 535.0,538.0C541.5,537.0 554.7,533.2 558.4,536.4C562.1,539.6 565.1,558.0 562.6,561.7C560.1,565.4 545.6,563.8 540.0,564.5C534.4,565.2 526.0,565.6 520.4,567.0C514.8,568.4 503.9,573.3 498.0,575.0C492.1,576.7 482.5,579.6 476.1,579.6C469.7,579.6 456.7,576.0 450.0,575.0C443.3,574.0 432.2,573.1 425.5,572.2C418.8,571.3 405.6,568.6 400.0,568.0C394.4,567.4 389.3,567.2 383.3,568.0C377.3,568.8 361.3,572.5 355.0,574.0C348.7,575.5 339.3,580.6 336.0,579.0C332.7,577.4 329.3,566.3 330.0,562.0C330.7,557.7 335.5,549.6 341.1,546.9Z" fill="url(#sprout)"/>
<path d="M476.1,579.6 C490,578 500,572 509,569 C500,566 485,560 476,560 Z" fill="url(#sprout)" opacity="0"/>
<ellipse cx="564.3" cy="549.6" rx="9.2" ry="14" fill="url(#open2)"/>
<path d="M643.5,467.1 C662.5,461.5 685.5,458.5 705.5,458.3 C711.5,458.3 715.0,460.5 714.0,465.5 C711.5,473.5 703.5,489.5 701.5,509.5 C700.5,521.5 700.0,529.5 700.0,537.5 L705.5,551.5 C709.5,561.5 712.5,569.5 715.5,576.5 C709.5,584.5 703.5,597.5 702.9,614.5 L702.9,659.5 L658.9,659.5 L658.9,614.5 C658.5,596.5 656.5,585.5 653.5,575.5 C647.5,559.5 642.5,545.5 642.5,529.5 L642.5,479.5 C642.5,473.5 643.0,469.5 643.5,467.1 Z" fill="url(#vesC)"/>
<ellipse cx="680.9" cy="659.9" rx="21.3" ry="11.2" fill="url(#open)" stroke="#ec1222" stroke-width="1.6"/>
<path d="M673.1,507.5A22.2,15.6 0 0 1 717.5,507.5A22.2,8.4 0 0 1 673.1,507.5Z" fill="url(#cell)" transform="rotate(15 695.3 503.9)"/>
<path d="M645.7,525.4A18.2,13.7 0 0 1 682.1,525.4A18.2,7.3 0 0 1 645.7,525.4Z" fill="url(#cell)" transform="rotate(5 663.9 522.3)"/>
<path d="M684.8,537.0A16.5,9.5 0 0 1 717.8,537.0A16.5,5.1 0 0 1 684.8,537.0Z" fill="url(#cell)"/>
<path d="M676.1,524.0A22.5,13.9 0 0 1 721.1,524.0A22.5,7.5 0 0 1 676.1,524.0Z" fill="url(#cell)" transform="rotate(12 698.6 520.8)"/>
<path d="M652.4,544.4A22.7,12.9 0 0 1 697.8,544.4A22.7,6.9 0 0 1 652.4,544.4Z" fill="url(#cell)" transform="rotate(-3 675.1 541.4)"/>
<path d="M696.1,550.4A21.2,17.2 0 0 1 738.5,550.4A21.2,9.2 0 0 1 696.1,550.4Z" fill="url(#cell)" transform="rotate(-15 717.3 546.4)"/>
<path d="M735.7,538.8A21.8,13.3 0 0 1 779.3,538.8A21.8,7.1 0 0 1 735.7,538.8Z" fill="url(#cell)"/>
<path d="M719.7,550.2C725.7,547.7 742.4,544.5 751.7,543.1C761.0,541.7 781.9,540.2 789.1,539.8C796.3,539.4 798.5,539.4 805.6,540.3C812.7,541.2 833.3,546.2 842.2,546.6C851.1,547.0 863.9,543.8 872.0,543.0C880.1,542.2 893.8,541.5 903.1,540.5C912.4,539.5 937.6,532.4 941.7,535.4C945.8,538.4 940.1,557.8 933.6,562.8C927.1,567.8 904.7,570.8 893.0,573.0C881.3,575.2 856.1,579.1 846.2,579.0C836.3,578.9 825.0,573.8 818.9,572.3C812.8,570.8 805.5,568.6 800.1,567.9C794.7,567.2 785.4,566.4 778.1,566.8C770.8,567.2 752.5,569.8 745.0,571.2C737.5,572.6 726.7,576.2 722.0,577.0C717.3,577.8 712.0,579.0 710.0,577.0C708.0,575.0 705.7,565.6 707.0,562.0C708.3,558.4 713.7,552.7 719.7,550.2Z" fill="url(#sprout)"/>
<ellipse cx="862.5" cy="547.5" rx="6" ry="5" fill="url(#cellE)"/>
<ellipse cx="890.0" cy="538.8" rx="6" ry="5" fill="url(#cellE)"/>
<ellipse cx="830.6" cy="581.3" rx="10.5" ry="7" fill="url(#cellE)"/>
<ellipse cx="826.9" cy="568.8" rx="9.5" ry="10" fill="url(#cellE)"/>
<ellipse cx="818.8" cy="548.1" rx="15" ry="13.4" fill="url(#cellE)" transform="rotate(20 818.8 548.1)"/>
<ellipse cx="868.1" cy="581.9" rx="12" ry="7.5" fill="url(#cellE)"/>
<ellipse cx="860.0" cy="565.0" rx="10" ry="11" fill="url(#cellE)"/>
<ellipse cx="845.6" cy="549.4" rx="13" ry="10" fill="url(#cellE)" transform="rotate(15 845.6 549.4)"/>
<ellipse cx="896.9" cy="572.5" rx="9.5" ry="7" fill="url(#cellE)"/>
<ellipse cx="890.0" cy="565.0" rx="9" ry="9" fill="url(#cellE)"/>
<ellipse cx="886.3" cy="556.3" rx="11" ry="11" fill="url(#cellE)"/>
<ellipse cx="875.0" cy="545.0" rx="13.5" ry="8.5" fill="url(#cellE)" transform="rotate(10 875.0 545.0)"/>
<ellipse cx="926.3" cy="566.3" rx="10" ry="7.5" fill="url(#cellE)"/>
<ellipse cx="920.0" cy="558.8" rx="8" ry="9" fill="url(#cellE)"/>
<ellipse cx="907.5" cy="545.0" rx="16" ry="12" fill="url(#cellE)" transform="rotate(20 907.5 545.0)"/>
<ellipse cx="941.5" cy="548.8" rx="8.9" ry="14" fill="url(#open2)"/>
<text x="1.4" y="14.3" font-size="19.6" font-weight="700" textLength="16.0" lengthAdjust="spacingAndGlyphs" >A</text>
<text x="27.6" y="14.3" font-size="19.6" font-weight="700" textLength="714.2" lengthAdjust="spacingAndGlyphs" >Oligodendrocyte precursor specification and proliferation in the spinal cord</text>
<text x="3.0" y="399.9" font-size="19.2" font-weight="700" textLength="14.6" lengthAdjust="spacingAndGlyphs" >B</text>
<text x="26.4" y="399.9" font-size="19.2" font-weight="700" textLength="523.1" lengthAdjust="spacingAndGlyphs" >Vascular mural cell proliferation, survival and migration</text>
<path d="M250,127.6L404.6,127.6" stroke="#000" stroke-width="2.9"/>
<path d="M410.6,127.6L395.1,122.89999999999999L400.1,127.6L395.1,132.29999999999998Z" fill="#000"/>
<path d="M626.2,127.9L780.7,127.9" stroke="#000" stroke-width="2.9"/>
<path d="M786.7,127.9L771.2,123.2L776.2,127.9L771.2,132.6Z" fill="#000"/>
<path d="M29.4,146 L29.4,203" stroke="#000" stroke-width="2.8"/>
<path d="M29.4,137 L24.4,152 L29.4,149 L34.4,152 Z" fill="#000"/>
<path d="M29.4,212 L24.4,197 L29.4,200 L34.4,197 Z" fill="#000"/>
<text x="0.5" y="131.9" font-size="18" font-weight="400" textLength="56.8" lengthAdjust="spacingAndGlyphs" >Dorsal</text>
<text x="0.5" y="226.5" font-size="18" font-weight="400" textLength="59.9" lengthAdjust="spacingAndGlyphs" >Ventral</text>
<text x="76.9" y="107.1" font-size="19" font-weight="400" textLength="103.2" lengthAdjust="spacingAndGlyphs" stroke="#000" stroke-width="0.4">Neural tube</text>
<text x="249.9" y="156.7" font-size="18" font-weight="400" textLength="156.0" lengthAdjust="spacingAndGlyphs" >PDGF-dependent</text>
<text x="249.9" y="179.7" font-size="18" font-weight="400" textLength="147.6" lengthAdjust="spacingAndGlyphs" >O2A proliferation</text>
<text x="249.9" y="203.2" font-size="18" font-weight="400" textLength="67.2" lengthAdjust="spacingAndGlyphs" >survival</text>
<text x="626.2" y="156.7" font-size="18" font-weight="400" textLength="156.0" lengthAdjust="spacingAndGlyphs" >PDGF-dependent</text>
<text x="626.2" y="179.7" font-size="18" font-weight="400" textLength="147.9" lengthAdjust="spacingAndGlyphs" >O2A proliferation</text>
<text x="626.2" y="203.2" font-size="18" font-weight="400" textLength="119.3" lengthAdjust="spacingAndGlyphs" >and migration</text>
<path d="M175.2,240.3L125.5,232.9" stroke="#000" stroke-width="3"/>
<path d="M119.6,232.0L134.3,228.6L128.5,233.3L132.6,239.5Z" fill="#000"/>
<text x="178.5" y="246.8" font-size="18" font-weight="400" textLength="88.1" lengthAdjust="spacingAndGlyphs" >Floorplate</text>
<path d="M140.8,283.4L109.7,277.2" stroke="#000" stroke-width="3"/>
<path d="M103.8,276.0L118.6,273.4L112.6,277.8L116.4,284.1Z" fill="#000"/>
<text x="144.4" y="290.5" font-size="18" font-weight="400" textLength="90.5" lengthAdjust="spacingAndGlyphs" >Notochord</text>
<text x="82.4" y="327.8" font-size="18" font-weight="400" textLength="51.2" lengthAdjust="spacingAndGlyphs" >E12.5</text>
<text x="448.0" y="328.0" font-size="18" font-weight="400" textLength="51.8" lengthAdjust="spacingAndGlyphs" stroke="#000" stroke-width="0.5">E13.5</text>
<text x="828.0" y="329.6" font-size="18" font-weight="400" textLength="51.8" lengthAdjust="spacingAndGlyphs" stroke="#000" stroke-width="0.5">E15.5</text>
<rect x="1012" y="130.5" width="264.5" height="192" fill="none" stroke="#000" stroke-width="1.8"/>
<rect x="1023.8" y="138.2" width="51.5" height="35" fill="url(#legpurple)" stroke="#000" stroke-width="1.6"/>
<rect x="1023.8" y="180" width="51.5" height="34.6" fill="#fff" stroke="#000" stroke-width="1.6"/>
<path d="M1032.0,190.5L1039.0,190.5M1033.3,187.8L1037.7,193.2M1037.7,187.8L1033.3,193.2" stroke="#000" stroke-width="1.6" stroke-linecap="round"/>
<path d="M1048.5,195.5L1055.5,195.5M1049.8,192.8L1054.2,198.2M1054.2,192.8L1049.8,198.2" stroke="#000" stroke-width="1.6" stroke-linecap="round"/>
<path d="M1060.0,190.5L1067.0,190.5M1061.3,187.8L1065.7,193.2M1065.7,187.8L1061.3,193.2" stroke="#000" stroke-width="1.6" stroke-linecap="round"/>
<path d="M1043.5,205.0L1050.5,205.0M1044.8,202.3L1049.2,207.7M1049.2,202.3L1044.8,207.7" stroke="#000" stroke-width="1.6" stroke-linecap="round"/>
<rect x="1023.8" y="222.3" width="51.5" height="35" fill="#1480f4" stroke="#000" stroke-width="1.6"/>
<rect x="1023.8" y="264.4" width="51.5" height="35.4" fill="#fff" stroke="#000" stroke-width="1.6"/>
<circle cx="1033.0" cy="272.0" r="1.5" fill="#5aacf4" stroke="#143e96" stroke-width="1.1"/>
<circle cx="1050.0" cy="277.5" r="1.5" fill="#5aacf4" stroke="#143e96" stroke-width="1.1"/>
<circle cx="1065.0" cy="275.5" r="1.5" fill="#5aacf4" stroke="#143e96" stroke-width="1.1"/>
<circle cx="1040.0" cy="287.0" r="1.5" fill="#5aacf4" stroke="#143e96" stroke-width="1.1"/>
<circle cx="1031.5" cy="292.5" r="1.5" fill="#5aacf4" stroke="#143e96" stroke-width="1.1"/>
<circle cx="1060.0" cy="291.0" r="1.5" fill="#5aacf4" stroke="#143e96" stroke-width="1.1"/>
<text x="1081.9" y="160.8" font-size="15.3" font-weight="400" textLength="149.6" lengthAdjust="spacingAndGlyphs" >PDGFC expression</text>
<text x="1081.9" y="191.6" font-size="15.3" font-weight="400" textLength="165.6" lengthAdjust="spacingAndGlyphs" >Neurons that express</text>
<text x="1081.9" y="211.1" font-size="15.3" font-weight="400" textLength="59.3" lengthAdjust="spacingAndGlyphs" >PDGFA</text>
<text x="1080.4" y="241.2" font-size="15.3" font-weight="400" textLength="189.4" lengthAdjust="spacingAndGlyphs" >O2A specification region</text>
<text x="1085.3" y="278.0" font-size="15.3" font-weight="400" textLength="109.3" lengthAdjust="spacingAndGlyphs" >O2A cells that</text>
<text x="1085.3" y="297.7" font-size="15.3" font-weight="400" textLength="137.7" lengthAdjust="spacingAndGlyphs" >express PDGFR&#945;</text>
<path d="M152.3,453.2L97.3,475.9" stroke="#000" stroke-width="3"/>
<path d="M91.8,478.2L103.6,467.4L101.0,474.4L107.8,477.6Z" fill="#000"/>
<path d="M96.5,639.0L64.7,606.3" stroke="#000" stroke-width="3"/>
<path d="M60.5,602.0L74.9,608.9L67.5,609.2L67.0,616.6Z" fill="#000"/>
<text x="50.1" y="448.3" font-size="18" font-weight="400" textLength="189.9" lengthAdjust="spacingAndGlyphs" >Vascular endothelium</text>
<text x="1.7" y="482.3" font-size="19.5" font-weight="700" textLength="11.8" lengthAdjust="spacingAndGlyphs" >a</text>
<text x="99.0" y="652.9" font-size="18" font-weight="400" textLength="156.3" lengthAdjust="spacingAndGlyphs" >Primitive vascular</text>
<text x="99.0" y="675.9" font-size="18" font-weight="400" textLength="136.6" lengthAdjust="spacingAndGlyphs" >plexus or artery</text>
<path d="M146.25,524.6L230.9,524.6" stroke="#000" stroke-width="2.9"/>
<path d="M236.9,524.6L221.4,519.9L226.4,524.6L221.4,529.3000000000001Z" fill="#000"/>
<path d="M536.9,524.6L621.25,524.6" stroke="#000" stroke-width="2.9"/>
<path d="M627.25,524.6L611.75,519.9L616.75,524.6L611.75,529.3000000000001Z" fill="#000"/>
<text x="242.3" y="482.6" font-size="19.5" font-weight="700" textLength="12.2" lengthAdjust="spacingAndGlyphs" >b</text>
<text x="621.6" y="482.6" font-size="19.5" font-weight="700" textLength="11.4" lengthAdjust="spacingAndGlyphs" >c</text>
<rect x="979.4" y="480.8" width="299.5" height="142" fill="none" stroke="#000" stroke-width="1.8"/>
<path d="M990,505 C1005,499 1022,496 1037,495.3 L1040,520 C1025,522 1010,527 998,533 C988,528 986,512 990,505 Z" fill="url(#sprout)" stroke="#000" stroke-width="0.8"/>
<ellipse cx="1041.7" cy="507.6" rx="8" ry="12.4" fill="url(#open2)"/>
<path d="M1013.8,579.0A18.5,14.6 0 0 1 1050.8,579.0A18.5,7.8 0 0 1 1013.8,579.0Z" fill="url(#cell)"/>
<text x="1060.9" y="505.8" font-size="15.8" font-weight="400" textLength="206.4" lengthAdjust="spacingAndGlyphs" >Nascent endothelial sprout</text>
<text x="1060.5" y="526.8" font-size="15.8" font-weight="400" textLength="148.6" lengthAdjust="spacingAndGlyphs" >expressing PDGFB</text>
<text x="1062.1" y="571.2" font-size="15.8" font-weight="400" textLength="136.5" lengthAdjust="spacingAndGlyphs" >VSMC or pericyte</text>
<text x="1062.1" y="591.6" font-size="15.8" font-weight="400" textLength="159.4" lengthAdjust="spacingAndGlyphs" >expressing PDGFR&#946;</text>
</svg></body></html>
